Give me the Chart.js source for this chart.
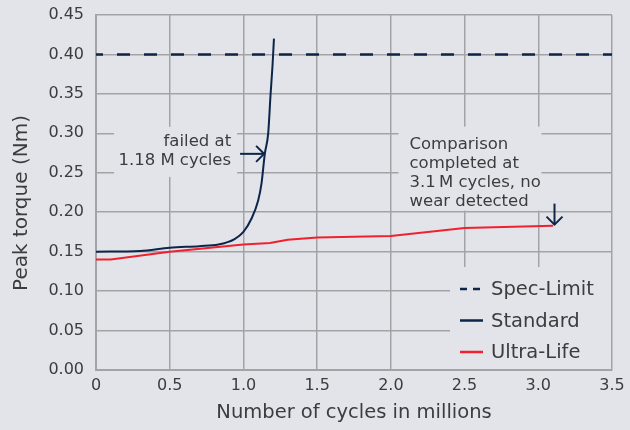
<!DOCTYPE html>
<html>
<head>
<meta charset="utf-8">
<script src="https://cdn.jsdelivr.net/npm/chart.js@4"></script>
<style>
    html, body { margin: 0; padding: 0; background: #e3e4e9; }
    #wrap { width: 630px; height: 430px; }
</style>
</head>
<body>
<div id="wrap"><canvas id="chart" width="630" height="430"></canvas></div>
<script>
"use strict";

const xTickValues = [0, 0.5, 1, 1.5, 2, 2.5, 3, 3.5];
const xTickLabels = ["0", "0.5", "1.0", "1.5", "2.0", "2.5", "3.0", "3.5"];
const yTickLabels = ["0.00", "0.05", "0.10", "0.15", "0.20", "0.25", "0.30", "0.35", "0.40", "0.45"];

const specX = [0, 3.5];
const specY = [0.40, 0.40];

const standardX = [0, 0.3, 0.5, 0.7, 0.83, 0.94, 1.0, 1.055, 1.1, 1.123, 1.145, 1.168, 1.184, 1.197, 1.207];
const standardY = [0.150, 0.151, 0.155, 0.157, 0.159, 0.166, 0.175, 0.192, 0.215, 0.237, 0.274, 0.300, 0.349, 0.385, 0.420];

const ultraX = [0, 0.1, 0.5, 1.0, 1.18, 1.3, 1.5, 2.0, 2.5, 3.1];
const ultraY = [0.140, 0.140, 0.150, 0.159, 0.161, 0.165, 0.168, 0.170, 0.180, 0.183];

const failedAt = { x: 1.147, y: 0.274 };
const completedAt = { x: 3.11, y: 0.183 };

const bg = "#e3e4e9";
const textColor = "#3c3c3f";
const navy = "#0c2549";
const red = "#f0212e";
const gridColor = "#a3a3a6";
const fontFamily = "'DejaVu Sans', sans-serif";

const toPoints = (xs, ys) => xs.map((x, i) => ({ x, y: ys[i] }));

const drawArrowHead = (ctx, tip, dx, dy, size) => {
    // dx/dy is the unit direction of the arrow
    const px = -dy, py = dx;
    ctx.beginPath();
    ctx.moveTo(tip.x - dx * size + px * size, tip.y - dy * size + py * size);
    ctx.lineTo(tip.x, tip.y);
    ctx.lineTo(tip.x - dx * size - px * size, tip.y - dy * size - py * size);
    ctx.stroke();
};

const notesPlugin = {
    id: "notes",
    beforeDatasetsDraw(chart) {
        const { ctx, chartArea, scales } = chart;
        const f = { x: scales.x.getPixelForValue(failedAt.x), y: scales.y.getPixelForValue(failedAt.y) };
        const c = { x: scales.x.getPixelForValue(completedAt.x), y: scales.y.getPixelForValue(completedAt.y) };
        ctx.save();
        ctx.fillStyle = bg;
        ctx.fillRect(f.x - 151, f.y - 27, 123, 50);
        ctx.fillRect(c.x - 156, c.y - 99, 143, 84);
        ctx.fillRect(450, 267, chartArea.right - 1 - 450, chartArea.bottom - 1 - 267);
        ctx.restore();
    },
    afterDatasetsDraw(chart) {
        const { ctx, scales } = chart;
        const f = { x: scales.x.getPixelForValue(failedAt.x), y: scales.y.getPixelForValue(failedAt.y) };
        const c = { x: scales.x.getPixelForValue(completedAt.x), y: scales.y.getPixelForValue(completedAt.y) };
        ctx.save();
        ctx.fillStyle = textColor;
        ctx.textBaseline = "middle";

        // y axis title, set a little below the middle like the original
        ctx.save();
        ctx.font = `20px ${fontFamily}`;
        ctx.textAlign = "center";
        ctx.translate(22, 203);
        ctx.rotate(-Math.PI / 2);
        ctx.fillText("Peak torque (Nm)", 0, 0);
        ctx.restore();

        ctx.font = `16.5px ${fontFamily}`;
        ctx.textAlign = "right";
        ctx.fillText("failed at", f.x - 34, f.y - 12.5);
        ctx.fillText("1.18 M cycles", f.x - 34, f.y + 7);

        ctx.textAlign = "left";
        const lines = ["Comparison", "completed at", "3.1\u2009M cycles, no", "wear detected"];
        lines.forEach((t, i) => ctx.fillText(t, c.x - 145, c.y - 80.5 + i * 18.8));

        ctx.strokeStyle = navy;
        ctx.lineWidth = 2;
        ctx.beginPath();
        ctx.moveTo(f.x - 25, f.y);
        ctx.lineTo(f.x - 1, f.y);
        ctx.stroke();
        drawArrowHead(ctx, { x: f.x - 1, y: f.y }, 1, 0, 8);

        ctx.beginPath();
        ctx.moveTo(c.x, c.y - 22);
        ctx.lineTo(c.x, c.y - 1);
        ctx.stroke();
        drawArrowHead(ctx, { x: c.x, y: c.y - 1 }, 0, 1, 8);

        // legend
        ctx.font = `19.5px ${fontFamily}`;
        chart.data.datasets.forEach((ds, i) => {
            const y = 289 + i * 31.5;
            ctx.strokeStyle = ds.borderColor;
            ctx.lineWidth = 2.5;
            ctx.setLineDash(ds.borderDash && ds.borderDash.length ? [7, 6] : []);
            ctx.beginPath();
            ctx.moveTo(460, y);
            ctx.lineTo(483, y);
            ctx.stroke();
            ctx.setLineDash([]);
            ctx.fillStyle = textColor;
            ctx.fillText(ds.label, 491, y + 1);
        });
        ctx.restore();
    }
};

new Chart(document.getElementById("chart"), {
    type: "line",
    data: {
        datasets: [
            {
                label: "Spec-Limit",
                data: toPoints(specX, specY),
                borderColor: navy,
                borderWidth: 2.5,
                borderDash: [13, 14],
                borderDashOffset: 6,
                pointRadius: 0
            },
            {
                label: "Standard",
                data: toPoints(standardX, standardY),
                borderColor: navy,
                borderWidth: 2,
                cubicInterpolationMode: "monotone",
                pointRadius: 0
            },
            {
                label: "Ultra-Life",
                data: toPoints(ultraX, ultraY),
                borderColor: red,
                borderWidth: 2,
                tension: 0,
                pointRadius: 0
            }
        ]
    },
    options: {
        responsive: false,
        animation: false,
        devicePixelRatio: 1,
        layout: { padding: { top: 15, right: 18, left: 0, bottom: 0 } },
        plugins: { legend: { display: false }, tooltip: { enabled: false } },
        scales: {
            x: {
                type: "linear",
                min: 0,
                max: 3.5,
                afterBuildTicks: (s) => { s.ticks = xTickValues.map((v) => ({ value: v })); },
                afterFit: (s) => {
                    s.height = 60;
                    s.paddingLeft = 0;
                    s.paddingRight = 0;
                },
                ticks: {
                    color: textColor,
                    font: { family: fontFamily, size: 16 },
                    padding: 6,
                    maxRotation: 0,
                    callback: (v, i) => xTickLabels[i]
                },
                grid: { color: gridColor, lineWidth: 1.5, drawTicks: false },
                border: { color: gridColor, width: 2 },
                title: {
                    display: true,
                    text: "Number of cycles in millions",
                    color: textColor,
                    font: { family: fontFamily, size: 19.5 },
                    padding: { top: 0, bottom: 5 }
                }
            },
            y: {
                min: 0,
                max: 0.45,
                afterBuildTicks: (s) => { s.ticks = yTickLabels.map((t, i) => ({ value: i * 0.05 })); },
                afterFit: (s) => {
                    s.width = 96;
                    s.paddingTop = 0;
                    s.paddingBottom = 0;
                },
                ticks: {
                    color: textColor,
                    font: { family: fontFamily, size: 16 },
                    padding: 12,
                    callback: (v, i) => yTickLabels[i]
                },
                grid: { color: gridColor, lineWidth: 1.5, drawTicks: false },
                border: { color: gridColor, width: 2 }
            }
        }
    },
    plugins: [notesPlugin]
});
</script>
</body>
</html>
